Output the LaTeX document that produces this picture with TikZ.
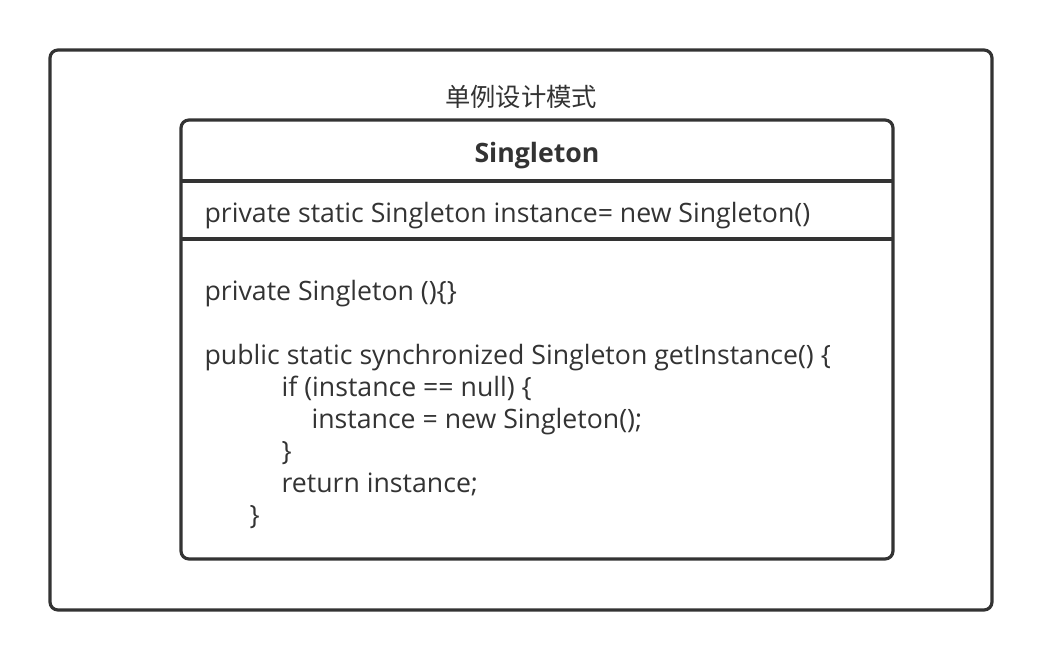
\documentclass[tikz,border=0pt]{standalone}
\usepackage{fontspec}
\setmainfont{Open Sans}
\newfontfamily\cjk{Noto Sans CJK SC}
\usetikzlibrary{positioning}
\definecolor{ink}{HTML}{333333}

\begin{document}
\begin{tikzpicture}[x=0.75pt, y=-0.75pt, line width=2.4pt, rounded corners=6pt,
    every node/.style={text=ink, font=\fontsize{20}{24}\selectfont, inner sep=0pt},
    box/.style={draw=ink}]
    \useasboundingbox (0,0) rectangle (1042,660);
    % frame and class box
    \draw[box] (50,50) rectangle (992,610);
    \draw[box] (181,120) rectangle (893,559);
    \draw[draw=ink, sharp corners] (181,181) -- (893,181);
    \draw[draw=ink, sharp corners] (181,239) -- (893,239);
    \node (title) at (521,97) {\cjk\fontsize{19}{24}\selectfont 单例设计模式};
    \node (name) [anchor=base] at (537,162) {\bfseries Singleton};
    \node (attr) [anchor=base west] at (203,222) {private static Singleton instance= new Singleton()};
    % base of a multi-line node = last line
    \node (ops) [anchor=base west, align=left] at (203,524) {private Singleton ()\{\}\\
      \mbox{}\\
      public static synchronized Singleton getInstance() \{\\
      \hspace*{57.75pt}if (instance == null) \{\\
      \hspace*{80.25pt}instance = new Singleton();\\
      \hspace*{57.75pt}\}\\
      \hspace*{57.75pt}return instance;\\
      \hspace*{33.75pt}\}};
  \end{tikzpicture}
\end{document}
